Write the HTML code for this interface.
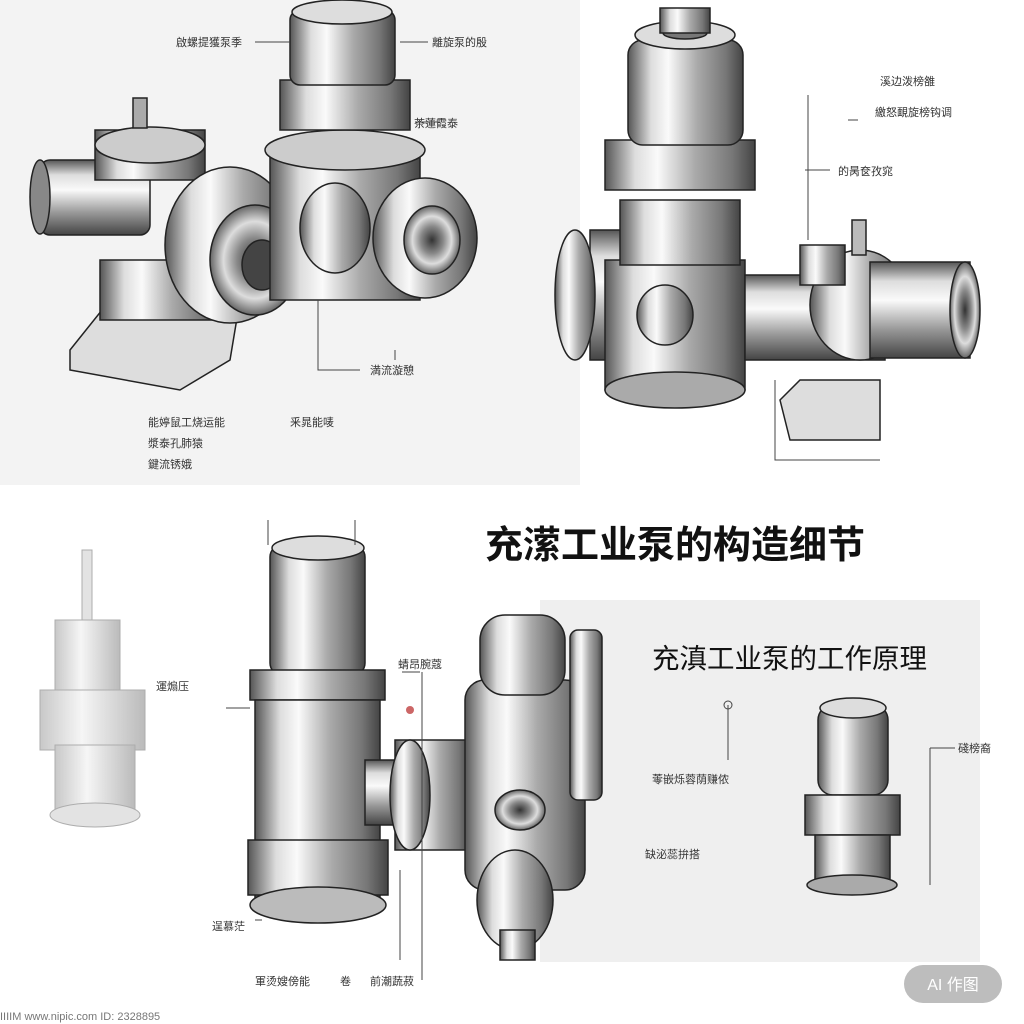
<!DOCTYPE html>
<html><head><meta charset="utf-8"><style>
html,body{margin:0;padding:0;background:#fff}
svg{display:block}
text{font-family:"Liberation Sans","Noto Sans CJK SC",sans-serif}
</style></head><body>
<svg width="1024" height="1024" viewBox="0 0 1024 1024" xmlns="http://www.w3.org/2000/svg">
<defs>
<linearGradient id="mh" x1="0" x2="1" y1="0" y2="0">
<stop offset="0" stop-color="#555"/><stop offset="0.2" stop-color="#ddd"/><stop offset="0.35" stop-color="#fafafa"/><stop offset="0.6" stop-color="#aaa"/><stop offset="0.85" stop-color="#777"/><stop offset="1" stop-color="#444"/></linearGradient>
<linearGradient id="mv" x1="0" x2="0" y1="0" y2="1">
<stop offset="0" stop-color="#555"/><stop offset="0.2" stop-color="#ddd"/><stop offset="0.4" stop-color="#fafafa"/><stop offset="0.7" stop-color="#999"/><stop offset="1" stop-color="#444"/></linearGradient>
<radialGradient id="rd"><stop offset="0" stop-color="#333"/><stop offset="0.4" stop-color="#888"/><stop offset="0.7" stop-color="#ddd"/><stop offset="1" stop-color="#666"/></radialGradient>
<linearGradient id="fade" x1="0" x2="1"><stop offset="0" stop-color="#bbb"/><stop offset="0.4" stop-color="#f4f4f4"/><stop offset="1" stop-color="#aaa"/></linearGradient>
</defs>
<rect width="1024" height="1024" fill="#fff"/>
<rect x="0" y="0" width="580" height="485" fill="#f3f3f3"/>
<rect x="540" y="600" width="440" height="362" fill="#efefef"/>

<g stroke="#222" stroke-width="1.5">
<polygon points="70,350 110,300 240,300 230,360 180,390 70,370" fill="#ddd"/>
<rect x="100" y="260" width="120" height="60" fill="url(#mh)"/>
<rect x="40" y="160" width="110" height="75" rx="10" fill="url(#mv)"/>
<ellipse cx="40" cy="197" rx="10" ry="37" fill="#888"/>
<rect x="95" y="130" width="110" height="50" fill="url(#mh)"/>
<ellipse cx="150" cy="145" rx="55" ry="18" fill="#ccc"/>
<ellipse cx="230" cy="245" rx="65" ry="78" fill="url(#mh)"/>
<ellipse cx="255" cy="260" rx="45" ry="55" fill="url(#rd)"/>
<ellipse cx="262" cy="265" rx="20" ry="25" fill="#444"/>
<rect x="270" y="150" width="150" height="150" fill="url(#mh)"/>
<ellipse cx="345" cy="150" rx="80" ry="20" fill="#ccc"/>
<rect x="280" y="80" width="130" height="50" fill="url(#mh)"/>
<rect x="290" y="10" width="105" height="75" rx="10" fill="url(#mh)"/>
<ellipse cx="342" cy="12" rx="50" ry="12" fill="#ddd"/>
<ellipse cx="425" cy="238" rx="52" ry="60" fill="url(#mh)"/>
<ellipse cx="432" cy="240" rx="28" ry="34" fill="url(#rd)"/>
<ellipse cx="335" cy="228" rx="35" ry="45" fill="url(#mh)"/>
<rect x="133" y="98" width="14" height="30" fill="#aaa"/>
</g>
<g stroke="#444" stroke-width="1" fill="none">
<path d="M255 42H290M400 42H428M415 122H440M318 300V370H360M395 350V360"/>
</g>
<g font-size="11" fill="#333">
<text x="176" y="46">啟螺提獲泵季</text><text x="432" y="46">離旋泵的殷</text>
<text x="414" y="127">茶蓮霞泰</text><text x="370" y="374">満流漩憩</text>
<text x="148" y="426">能婷鼠工烧运能</text><text x="148" y="447">漿泰孔肺猿</text><text x="148" y="468">鍵流锈娥</text>
<text x="290" y="426">釆晁能唛</text>
</g>

<g stroke="#222" stroke-width="1.5">
<polygon points="780,400 800,380 880,380 880,440 790,440" fill="#ddd"/>
<rect x="590" y="230" width="55" height="130" fill="url(#mv)"/>
<ellipse cx="575" cy="295" rx="20" ry="65" fill="url(#mh)"/>
<rect x="605" y="260" width="140" height="130" fill="url(#mh)"/>
<ellipse cx="675" cy="390" rx="70" ry="18" fill="#aaa"/>
<rect x="620" y="200" width="120" height="65" fill="url(#mh)"/>
<rect x="605" y="140" width="150" height="50" fill="url(#mh)"/>
<rect x="628" y="40" width="115" height="105" rx="15" fill="url(#mh)"/>
<ellipse cx="685" cy="35" rx="50" ry="14" fill="#ddd"/>
<ellipse cx="685" cy="33" rx="22" ry="6" fill="#777"/>
<rect x="660" y="8" width="50" height="25" fill="url(#mh)"/>
<ellipse cx="665" cy="315" rx="28" ry="30" fill="url(#mh)"/>
<rect x="745" y="275" width="140" height="85" fill="url(#mv)"/>
<ellipse cx="860" cy="305" rx="50" ry="55" fill="url(#mh)"/>
<rect x="870" y="262" width="100" height="96" fill="url(#mv)"/>
<ellipse cx="965" cy="310" rx="15" ry="48" fill="url(#rd)"/>
<rect x="800" y="245" width="45" height="40" fill="url(#mh)"/>
<rect x="852" y="220" width="14" height="35" fill="#bbb"/>
</g>
<g stroke="#444" stroke-width="1" fill="none">
<path d="M808 95V240M805 170H830M848 120H858M775 380V460H880"/>
</g>
<g font-size="11" fill="#333">
<text x="880" y="85">溪边泼榜雒</text><text x="875" y="116">繳怒靦旋榜钩调</text><text x="838" y="175">的昺奁孜窕</text>
</g>

<text x="485" y="558" font-size="38" font-weight="bold" fill="#111">充潆工业泵的构造细节</text>
<text x="652" y="668" font-size="27.5" fill="#111">充滇工业泵的工作原理</text>

<g stroke="#999" stroke-width="1" opacity="0.8">
<rect x="82" y="550" width="10" height="90" fill="#ddd"/>
<rect x="55" y="620" width="65" height="80" fill="url(#fade)"/>
<rect x="40" y="690" width="105" height="60" fill="url(#fade)"/>
<rect x="55" y="745" width="80" height="70" fill="url(#fade)"/>
<ellipse cx="95" cy="815" rx="45" ry="12" fill="#ddd"/>
</g>
<g font-size="11" fill="#333"><text x="156" y="690">運煽压</text></g>

<g stroke="#222" stroke-width="1.5">
<rect x="270" y="545" width="95" height="130" rx="12" fill="url(#mh)"/>
<ellipse cx="318" cy="548" rx="46" ry="12" fill="#ddd"/>
<rect x="250" y="670" width="135" height="30" fill="url(#mh)"/>
<rect x="255" y="700" width="125" height="200" fill="url(#mh)"/>
<rect x="248" y="840" width="140" height="55" fill="url(#mh)"/>
<ellipse cx="318" cy="905" rx="68" ry="18" fill="#bbb"/>
<rect x="365" y="760" width="40" height="65" fill="url(#mv)"/>
<rect x="395" y="740" width="75" height="110" fill="url(#mh)"/>
<ellipse cx="410" cy="795" rx="20" ry="55" fill="url(#mh)"/>
<rect x="465" y="680" width="120" height="210" rx="20" fill="url(#mh)"/>
<rect x="480" y="615" width="85" height="80" rx="25" fill="url(#mh)"/>
<ellipse cx="520" cy="810" rx="25" ry="20" fill="url(#rd)"/>
<rect x="570" y="630" width="32" height="170" rx="8" fill="url(#mh)"/>
<ellipse cx="515" cy="900" rx="38" ry="50" fill="url(#mh)"/>
<rect x="500" y="930" width="35" height="30" fill="url(#mh)"/>
</g>
<g stroke="#444" stroke-width="1" fill="none">
<path d="M268 520V545M355 520V545M402 672H420M422 672V980M400 870V960M226 708H250M255 920H262"/>
</g>
<circle cx="410" cy="710" r="4" fill="#c66"/>
<g font-size="11" fill="#333">
<text x="398" y="668">蜻昂腕蔻</text><text x="212" y="930">逞慕茫</text>
<text x="255" y="985">軍烫嫂傍能</text><text x="340" y="985">卷</text><text x="370" y="985">前潮蔬菽</text>
</g>

<g stroke="#222" stroke-width="1.5">
<rect x="818" y="705" width="70" height="90" rx="15" fill="url(#mh)"/>
<ellipse cx="853" cy="708" rx="33" ry="10" fill="#ddd"/>
<rect x="805" y="795" width="95" height="40" fill="url(#mh)"/>
<rect x="815" y="835" width="75" height="45" fill="url(#mh)"/>
<ellipse cx="852" cy="885" rx="45" ry="10" fill="#aaa"/>
</g>
<g stroke="#444" stroke-width="1" fill="none"><path d="M728 705V760M930 748V885M930 748H955"/></g>
<circle cx="728" cy="705" r="4" fill="none" stroke="#444"/>
<g font-size="11" fill="#333">
<text x="652" y="783">蕶嵌烁蓉荫赚侬</text><text x="645" y="858">缺泌蕊拚搭</text><text x="958" y="752">碊榜裔</text>
</g>

<g font-size="11" fill="#777"><text x="0" y="1020">IIIIM  www.nipic.com   ID:  2328895</text></g>
<rect x="904" y="965" width="98" height="38" rx="19" fill="#bdbdbd"/>
<text x="953" y="990" font-size="16" fill="#fff" text-anchor="middle">AI 作图</text>
</svg>
</body></html>
